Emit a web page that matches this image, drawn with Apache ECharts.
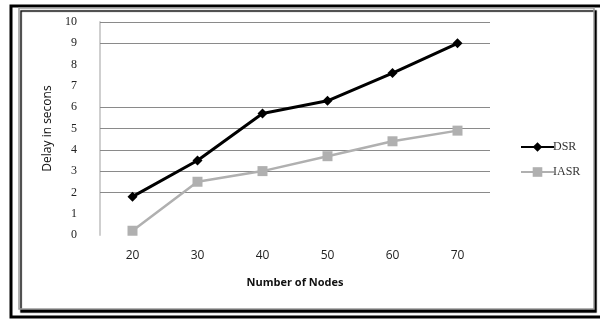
<!DOCTYPE html>
<html>
<head>
<meta charset="utf-8">
<script src="https://cdn.jsdelivr.net/npm/echarts@6/dist/echarts.min.js"></script>
<style>html,body{margin:0;padding:0;background:#fff;}#c{width:600px;height:320px;}</style>
</head>
<body>
<div id="c"></div>
<script>
const categories = ['20', '30', '40', '50', '60', '70'];
const dsr = [1.8, 3.5, 5.7, 6.3, 7.6, 9.0];
const iasr = [0.2, 2.5, 3.0, 3.7, 4.4, 4.9];
const seriesNames = ['DSR', 'IASR'];
const visibleGridValues = [2, 3, 4, 5, 6, 9, 10];
const xTitle = 'Number of Nodes';
const yTitle = 'Delay in secons';

const chart = echarts.init(document.getElementById('c'), null, {renderer: 'canvas'});
chart.setOption({
  animation: false,
  backgroundColor: '#fff',
  graphic: [
    {type: 'rect', shape: {x: 11, y: 6, width: 600, height: 311}, style: {fill: 'none', stroke: '#000', lineWidth: 3}, z: 0},
    {type: 'rect', shape: {x: 19, y: 8, width: 575, height: 301}, style: {fill: '#fff', stroke: '#9a9a9a', lineWidth: 1.5, shadowColor: '#000', shadowOffsetX: 2, shadowOffsetY: 3, shadowBlur: 1}, z: 0}
  ],
  grid: {left: 100, right: 110, top: 22, bottom: 85},
  legend: {
    orient: 'vertical', left: 515, top: 136, itemWidth: 33, itemHeight: 12, itemGap: 13,
    textStyle: {fontFamily: 'Liberation Serif', fontSize: 12, color: '#333', padding: [0,0,0,-6]},
    data: seriesNames
  },
  xAxis: {
    type: 'category', data: categories, boundaryGap: true,
    axisLine: {show: false}, axisTick: {show: false},
    axisLabel: {fontFamily: 'Open Sans', fontSize: 12, color: '#222', margin: 15},
    name: xTitle, nameLocation: 'middle', nameGap: 42,
    nameTextStyle: {fontFamily: 'Open Sans', fontWeight: 'bold', fontSize: 11, color: '#111'}
  },
  yAxis: {
    type: 'value', min: 0, max: 10, interval: 1,
    axisLine: {show: true, lineStyle: {color: '#cfcfcf', width: 2}},
    axisTick: {show: false},
    axisLabel: {fontFamily: 'Liberation Serif', fontSize: 12, color: '#222', margin: 23},
    splitLine: {show: false},
    name: yTitle, nameLocation: 'middle', nameGap: 46, nameRotate: 90,
    nameTextStyle: {fontFamily: 'Open Sans', fontSize: 12, color: '#111'}
  },
  series: [
    {name: seriesNames[0], type: 'line', data: dsr, symbol: 'diamond', symbolSize: 10,
     lineStyle: {color: '#000', width: 3}, itemStyle: {color: '#000'}, z: 3,
     markLine: {silent: true, symbol: 'none', label: {show: false},
       lineStyle: {color: '#8a8a8a', width: 1, type: 'solid'},
       data: visibleGridValues.map(v => ({yAxis: v})), z: 1}},
    {name: seriesNames[1], type: 'line', data: iasr, symbol: 'rect', symbolSize: 10,
     lineStyle: {color: '#b0b0b0', width: 2.5}, itemStyle: {color: '#b0b0b0'}, z: 2}
  ]
});
</script>
</body>
</html>
